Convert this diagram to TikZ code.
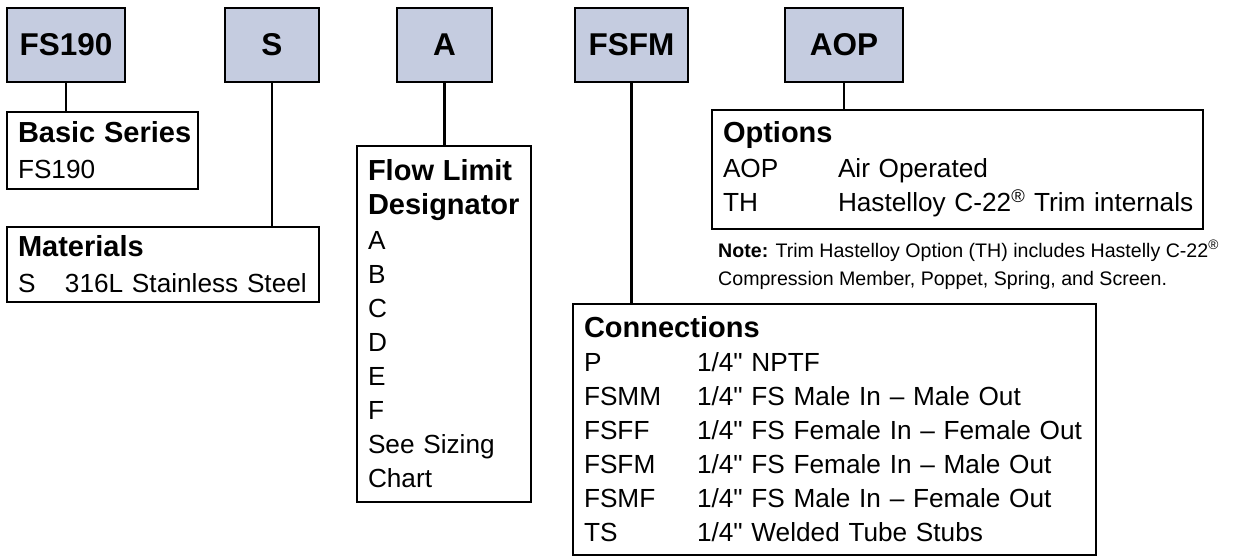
\documentclass[tikz,border=0pt]{standalone}
\usepackage{fontspec}
\setmainfont{Liberation Sans}
\usepackage{tikz}
\definecolor{codeblue}{RGB}{197,204,224}
\newcommand{\hdr}[1]{\mbox{\fontsize{29}{34}\selectfont\bfseries #1}}
\newcommand{\row}[3]{\mbox{\makebox[#1][l]{#2}#3}}
\newcommand{\qt}{1/4\textquotedbl}
\begin{document}
\begin{tikzpicture}[x=1pt,y=-1pt,
    code/.style={draw=black,line width=2.7pt,fill=codeblue,minimum height=74pt,inner sep=0pt,
        font=\fontsize{31.5}{36}\selectfont\bfseries},
    info/.style={draw=black,line width=2.7pt,anchor=north west,outer sep=0pt,align=left,
        inner xsep=11pt,inner ysep=0pt,font=\fontsize{26.2}{34}\selectfont},
    link/.style={line width=2.7pt}]
    \useasboundingbox (0,0) rectangle (1255,557);
    \node[code,minimum width=118pt] (fs) at (66,45) {FS190};
    \node[code,minimum width=94pt] (s) at (272,45) {S};
    \node[code,minimum width=95pt] (a) at (444.5,45) {A};
    \node[code,minimum width=113pt] (fsfm) at (631.5,45) {FSFM};
    \node[code,minimum width=118pt] (aop) at (844,45) {AOP};
    \node[info,text width=169pt,minimum height=77pt] (basic) at (7,112)
        {\hdr{Basic Series}\\[2pt]FS190};
    \node[info,text width=290pt,minimum height=75pt] (mat) at (7,227)
        {\hdr{Materials}\\[2pt]\row{47pt}{S}{316L Stainless Steel}};
    \node[info,text width=152pt,minimum height=356pt] (flow) at (357,146)
        {\hdr{Flow Limit}\\\hdr{Designator}\\[1pt]A\\B\\C\\D\\E\\F\\\mbox{See Sizing}\\Chart};
    \node[info,text width=469pt,minimum height=119pt] (opt) at (712,110)
        {\hdr{Options}\\[1pt]\row{115pt}{AOP}{Air Operated}\\
         \row{115pt}{TH}{Hastelloy C-22\textsuperscript{®} Trim internals}};
    \node[info,text width=501pt,minimum height=251pt] (conn) at (573,304)
        {\hdr{Connections}\\
         \row{113pt}{P}{\qt{} NPTF}\\
         \row{113pt}{FSMM}{\qt{} FS Male In -- Male Out}\\
         \row{113pt}{FSFF}{\qt{} FS Female In -- Female Out}\\
         \row{113pt}{FSFM}{\qt{} FS Female In -- Male Out}\\
         \row{113pt}{FSMF}{\qt{} FS Male In -- Female Out}\\
         \row{113pt}{TS}{\qt{} Welded Tube Stubs}};
    \node[anchor=north west,align=left,inner sep=0pt,font=\fontsize{19.6}{28}\selectfont] (note) at (718,240)
        {\textbf{Note:} Trim Hastelloy Option (TH) includes Hastelly C-22\textsuperscript{®}\\
         Compression Member, Poppet, Spring, and Screen.};
    \draw[link] (fs.south) -- (fs.south |- basic.north);
    \draw[link] (s.south) -- (s.south |- mat.north);
    \draw[link] (a.south) -- (a.south |- flow.north);
    \draw[link] (fsfm.south) -- (fsfm.south |- conn.north);
    \draw[link] (aop.south) -- (aop.south |- opt.north);
\end{tikzpicture}
\end{document}
